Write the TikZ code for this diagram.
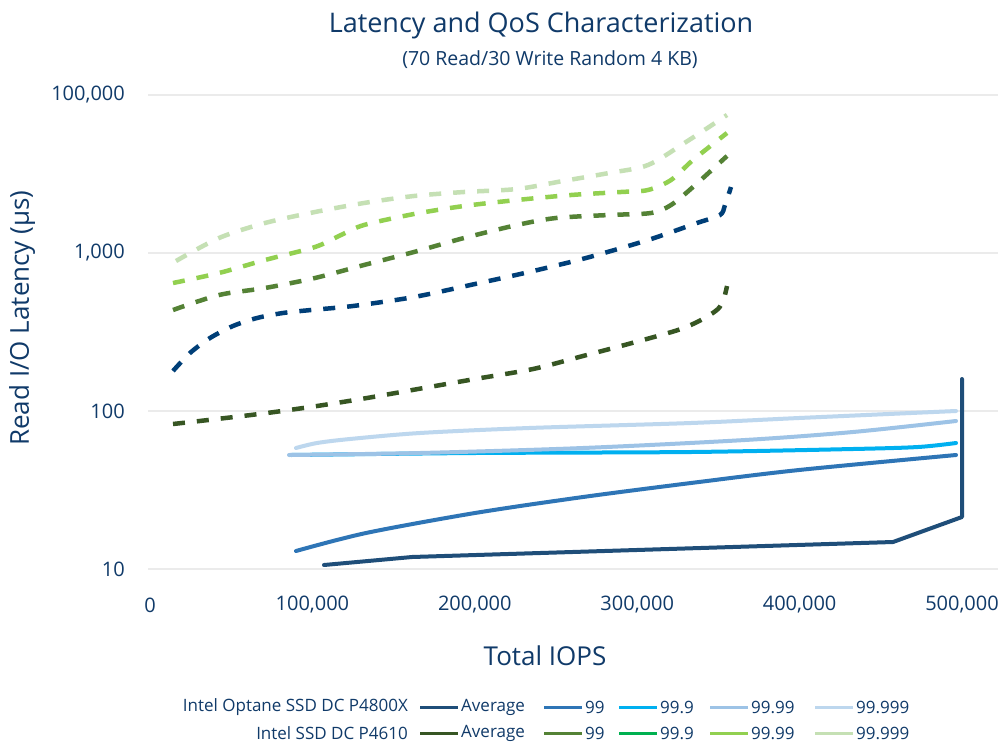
\documentclass[tikz,border=0pt]{standalone}
\usepackage{fontspec}
\setmainfont{Open Sans}
\usepackage{xcolor}
\usetikzlibrary{positioning}

\definecolor{txtblue}{RGB}{16,58,105}
\definecolor{gridgray}{RGB}{235,235,235}
\definecolor{optavg}{RGB}{31,78,121}
\definecolor{opt99}{RGB}{46,117,182}
\definecolor{opt999}{RGB}{0,176,240}
\definecolor{opt9999}{RGB}{157,195,230}
\definecolor{opt99999}{RGB}{189,215,238}
\definecolor{ssdavg}{RGB}{55,86,35}
\definecolor{ssd99}{RGB}{84,130,53}
\definecolor{ssd999}{RGB}{0,176,80}
\definecolor{ssd9999}{RGB}{146,208,80}
\definecolor{ssd99999}{RGB}{197,224,180}
\definecolor{navydash}{RGB}{0,63,120}

\begin{document}
\begin{tikzpicture}[
x=1pt, y=-1pt,
grid/.style={gridgray, line width=2pt},
ticklab/.style={text=txtblue, font=\fontsize{20}{24}\selectfont, inner sep=0pt},
axlab/.style={text=txtblue, font=\fontsize{26}{30}\selectfont, inner sep=0pt},
legtext/.style={text=txtblue, font=\fontsize{17}{20}\selectfont, inner sep=0pt},
legline/.style={line width=3pt},
optline/.style={line width=4pt, line cap=round, line join=round},
ssdline/.style={line width=4.5pt, dash pattern=on 12pt off 12pt, line join=round},
smooth, tension=0.5
]
\useasboundingbox[fill=white] (0,0) rectangle (998,744);

% titles
\node[text=txtblue, font=\fontsize{27}{31}\selectfont, inner sep=0pt] (title) at (541,25) {Latency and QoS Characterization};
\node[text=txtblue, font=\fontsize{19.5}{23}\selectfont, inner sep=0pt] (subtitle) at (550,60) {(70 Read/30 Write Random 4 KB)};

% grid and y ticks
\foreach \y/\lab [count=\i] in {95/{100,000}, 253/{1,000}, 411/100, 569/10}
{
	\draw[grid] (148,\y) -- (998,\y);
	\node[ticklab, anchor=east] (y\i) at (125,\y) {\lab};
}

% x ticks
\foreach \lab [count=\i] in {0, {100,000}, {200,000}, {300,000}, {400,000}, {500,000}}
{
	\pgfmathsetmacro\xpos{150 + 162.4*(\i - 1)}
	\node[ticklab] (x\i) at (\xpos,605) {\lab};
}

\node[axlab] (xlabel) at (545,656) {Total IOPS};
\node[axlab, rotate=90] (ylabel) at (22,318) {Read I/O Latency (µs)};

% P4610 (dashed)
\draw[ssdline, ssd99999] plot coordinates {(176,261) (219,238) (265,223) (315,212) (364,203) (414,196) (464,192) (517,189) (563,181) (609,173) (648,165) (686,142) (727,115)};
\draw[ssdline, ssd9999] plot coordinates {(173,283) (219,273) (265,260) (315,247) (341,235) (364,225) (414,214) (464,206) (517,200) (571,195) (621,192) (648,190) (671,180) (693,160) (727,133)};
\draw[ssdline, ssd99] plot coordinates {(173,310) (219,295) (265,288) (315,278) (364,265) (414,252) (464,238) (517,225) (556,218) (609,215) (651,213) (671,205) (693,187) (727,156)};
\draw[ssdline, navydash] plot coordinates {(173,371) (190,353) (210,338) (233,326) (257,318) (283,313) (311,310) (353,306) (414,297) (475,284) (529,272) (586,258) (648,240) (697,223) (720,215) (725,205) (731,187)};
\draw[ssdline, ssdavg] plot coordinates {(173,424) (217,419) (267,413) (317,406) (367,398) (418,389) (475,379) (533,369) (583,356) (632,343) (678,330) (701,320) (718,309) (724,298) (727,286)};

% P4800X (solid)
\draw[optline, opt99999] plot coordinates {(296,448) (317,443) (350,439) (420,433) (529,428) (691,423) (799,418) (956,411)};
\draw[optline, opt999] plot coordinates {(291,455) (475,453) (691,452) (853,449) (918,447) (956,443)};
\draw[optline, opt9999] plot coordinates {(289,455) (420,453) (583,448) (745,440) (853,432) (956,421)};
\draw[optline, opt99] plot coordinates {(296,551) (366,533) (475,513) (583,497) (691,483) (799,470) (956,455)};
\draw[optline, optavg] (324,565) -- (412,557) -- (893,542) -- (962,517) -- (962,379);

% legend
\node[legtext, anchor=east] (lopt) at (408,707.5) {Intel Optane SSD DC P4800X};
\node[legtext, anchor=east] (lssd) at (408,733.5) {Intel SSD DC P4610};
\foreach \c/\x/\lab [count=\k] in {optavg/420/Average, opt99/544/99, opt999/619/99.9, opt9999/710/99.99, opt99999/815/99.999}
{
	\coordinate (oa\k) at (\x,707.5);
	\coordinate (ob\k) at (\x+38,707.5);
	\draw[legline, \c] (oa\k) -- (ob\k);
	\node[legtext, right=3pt of ob\k] (ot\k) {\lab};
}
\foreach \c/\x/\lab [count=\k] in {ssdavg/420/Average, ssd99/544/99, ssd999/619/99.9, ssd9999/710/99.99, ssd99999/815/99.999}
{
	\coordinate (sa\k) at (\x,733.5);
	\coordinate (sb\k) at (\x+38,733.5);
	\draw[legline, \c] (sa\k) -- (sb\k);
	\node[legtext, right=3pt of sb\k] (st\k) {\lab};
}
\end{tikzpicture}
\end{document}
